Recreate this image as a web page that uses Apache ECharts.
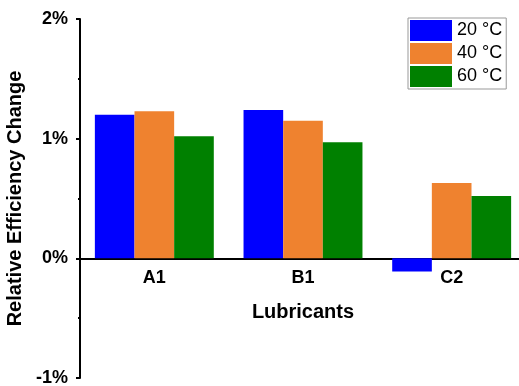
<!DOCTYPE html>
<html>
<head>
<meta charset="utf-8">
<script src="https://cdn.jsdelivr.net/npm/echarts@6/dist/echarts.min.js"></script>
<style>html,body{margin:0;padding:0;background:#fff;}#chart{width:519px;height:386px;}</style>
</head>
<body>
<div id="chart"></div>
<script>
const categories = ['A1', 'B1', 'C2'];
const seriesNames = ['20 °C', '40 °C', '60 °C'];
const values20 = [1.20, 1.24, -0.11];
const values40 = [1.23, 1.15, 0.63];
const values60 = [1.02, 0.97, 0.52];
const yTicks = [-1, 0, 1, 2];

const FONT = '"Liberation Sans", Arial, sans-serif';
const colors = ['#0000FF', '#EF822F', '#008000'];
const seriesData = [values20, values40, values60];

const W = 519, H = 386;
const gridTop = 19, gridBottom = 8;
const yMin = yTicks[0], yMax = yTicks[yTicks.length - 1];
const gridHeight = H - gridTop - gridBottom;
// move the category axis up to the zero line of the value axis
const zeroOffset = -gridHeight * (0 - yMin) / (yMax - yMin);

const chart = echarts.init(document.getElementById('chart'), null, {renderer: 'canvas'});
chart.setOption({
  animation: false,
  textStyle: {fontFamily: FONT},
  grid: {left: 80, top: gridTop, width: 446, bottom: gridBottom, containLabel: false, outerBoundsMode: 'none'},
  legend: {
    orient: 'vertical', left: 408, top: 18,
    itemWidth: 42, itemHeight: 21, itemGap: 2,
    padding: [2, 4, 2, 2],
    borderColor: '#999', borderWidth: 1,
    icon: 'rect',
    textStyle: {fontSize: 18, color: '#000', fontFamily: FONT},
    data: seriesNames
  },
  xAxis: [{
    type: 'category', data: categories, position: 'bottom', offset: zeroOffset,
    axisLine: {onZero: false, lineStyle: {color: '#000', width: 2}},
    axisTick: {alignWithLabel: true, length: 4, lineStyle: {color: '#000', width: 2}},
    axisLabel: {fontSize: 18, fontWeight: 'bold', color: '#000', margin: 11, fontFamily: FONT},
    name: 'Lubricants', nameLocation: 'middle', nameGap: 44,
    nameTextStyle: {fontSize: 20, fontWeight: 'bold', color: '#000', fontFamily: FONT},
    splitLine: {show: false}
  }, {
    type: 'category', data: categories, position: 'bottom', offset: zeroOffset,
    axisLine: {show: false, onZero: false},
    axisTick: {alignWithLabel: false, length: 2, lineStyle: {color: '#000', width: 2}},
    axisLabel: {show: false},
    splitLine: {show: false}
  }],
  yAxis: {
    type: 'value', min: yMin, max: yMax, interval: 1,
    axisLine: {show: true, onZero: false, lineStyle: {color: '#000', width: 2}},
    axisTick: {show: true, length: 4, lineStyle: {color: '#000', width: 2}},
    minorTick: {show: true, splitNumber: 2, length: 2, lineStyle: {color: '#000', width: 2}},
    axisLabel: {fontSize: 18, fontWeight: 'bold', color: '#000', margin: 12, formatter: '{value}%', fontFamily: FONT},
    splitLine: {show: false},
    name: 'Relative Efficiency Change', nameLocation: 'middle', nameGap: 43,
    nameTextStyle: {fontSize: 20, fontWeight: 'bold', color: '#000', fontFamily: FONT}
  },
  series: seriesNames.map((n, i) => ({
    name: n, type: 'bar', xAxisIndex: 0,
    data: seriesData[i],
    itemStyle: {color: colors[i]},
    barGap: '0%', barCategoryGap: '20%'
  }))
});
</script>
</body>
</html>
